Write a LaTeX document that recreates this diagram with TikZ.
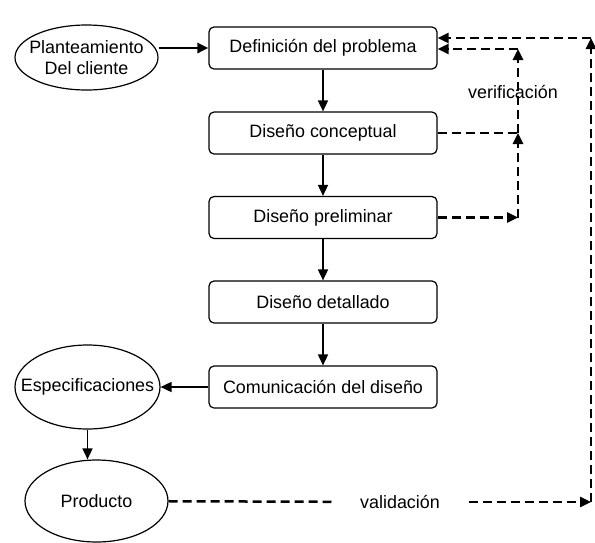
\documentclass[tikz,border=0pt]{standalone}
\usepackage{fontspec}
\setmainfont{Liberation Sans}
\usetikzlibrary{shapes.geometric,arrows.meta}

\begin{document}
\begin{tikzpicture}[x=1pt,y=-1pt,
  every node/.style={font=\fontsize{17.9}{20.5}\selectfont},
  box/.style={draw,rounded corners=5pt,line width=1.2pt,minimum width=228pt,minimum height=42pt,inner sep=0pt},
  oval/.style={draw,ellipse,line width=1.2pt,inner sep=0pt},
  flow/.style={->,>={Triangle[length=11pt,width=10pt]},line width=1.7pt},
  back/.style={->,>={Triangle[length=11pt,width=10pt]},line width=2.5pt,dash pattern=on 9pt off 5pt}]
                    \useasboundingbox (0,0) rectangle (595,542);
                    \node[box] (def) at (323,48) {Definición del problema};
                    \node[box] (con) at (323,133) {Diseño conceptual};
                    \node[box] (pre) at (323,217.5) {Diseño preliminar};
                    \node[box] (det) at (323,302) {Diseño detallado};
                    \node[box] (com) at (323,387) {Comunicación del diseño};
                    \node[oval,minimum width=143pt,minimum height=65pt,label={[align=center]center:Planteamiento\\Del cliente}] (plan) at (86.5,57.5) {};
                    \node[oval,minimum width=145pt,minimum height=84pt,label=center:Especificaciones] (esp) at (87.5,387) {};
                    \node[oval,minimum width=143pt,minimum height=82pt,label=center:Producto] (prod) at (96.5,501) {};
                    \node (ver) at (513,92) {verificación};
                    \node[inner xsep=28.5pt] (val) at (400,502) {validación};
                    \coordinate (v1) at (518,49);
                    \coordinate (v2) at (518,133);
                    \coordinate (v3) at (518,217.5);
                    \coordinate (c1) at (591,502);
                    \coordinate (c2) at (591,38);
                    % main flow
                    \draw[flow,line width=2.7pt] (plan.east |- def.west) -- (def.west);
                    \draw[flow] (def) -- (con);
                    \draw[flow] (con) -- (pre);
                    \draw[flow] (pre) -- (det);
                    \draw[flow] (det) -- (com);
                    \draw[flow] (com) -- (esp);
                    \draw[flow] (esp.south) -- (esp.south |- prod.north);
                    % verificacion
                    \draw[back] (pre.east) -- (v3);
                    \draw[back] (v3) -- (v2);
                    \draw[back,-] (con.east) -- (v2);
                    \draw[back] (v2) -- (v1);
                    \draw[back] (v1) -- (def.east |- v1);
                    % validacion
                    \draw[back,-] (prod) -- (val);
                    \draw[back] (val) -- (c1);
                    \draw[back] (c1) -- (c2);
                    \draw[back] (c2) -- (def.east |- c2);
                \end{tikzpicture}
\end{document}
